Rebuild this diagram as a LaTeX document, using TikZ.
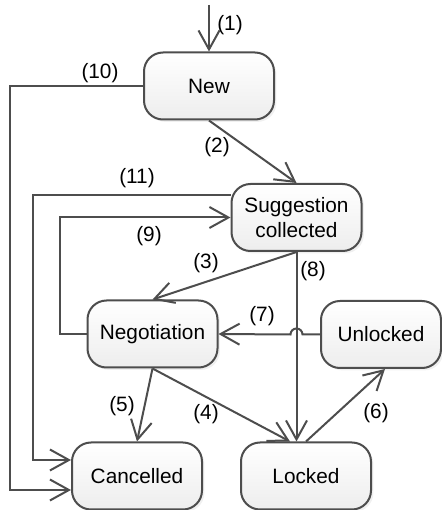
\documentclass[tikz,border=0pt]{standalone}
\usepackage{fontspec}
\setmainfont{Liberation Sans}
\usepackage{tikz}
\usetikzlibrary{arrows.meta, shadows, calc}

\definecolor{linegray}{RGB}{77,77,77}

\tikzset{
	state/.style={draw=linegray, line width=1pt, rounded corners=9.5pt, minimum width=65pt,
		minimum height=33.5pt, align=center, inner sep=2pt, top color=white, bottom color=black!7,
		drop shadow={opacity=0.12, shadow xshift=1.2pt, shadow yshift=-1.2pt},
		font=\fontsize{10.4}{12.5}\selectfont},
	lbl/.style={inner sep=0pt, font=\fontsize{10.4}{12.5}\selectfont},
	trans/.style={draw=linegray, line width=1pt, -{Straight Barb[length=9.5pt, width=10.5pt]}}
}

\begin{document}
\begin{tikzpicture}[x=1pt, y=1pt]
		\useasboundingbox (0,0) rectangle (221,255);
		\draw (104.5, 212) node[state] (new) {New}
		(148.25, 146.25) node[state] (sug) {Suggestion\\collected}
		(76.25, 88) node[state] (neg) {Negotiation}
		(190.5, 87.75) node[state, minimum width=60pt] (unl) {Unlocked}
		(68.5, 17) node[state] (canc) {Cancelled}
		(153, 17) node[state] (lock) {Locked};
		
		\coordinate (init) at (104.5, 252.5);
		\coordinate (c10) at (5, 10);
		\coordinate (c11) at (16.5, 25);
		\coordinate (c9) at (30, 146.25);
		
		\draw[trans] (init) -- (new);
		\draw[trans] (new.west) -| (c10) -- (c10 -| canc.west);
		\draw[trans] (new.south) -- (sug.north);
		\draw[trans] ([yshift=11.25pt]sug.west) -| (c11) -- (c11 -| canc.west);
		\draw[trans] (neg.west) -| (c9) -- (sug.west);
		\draw[trans] (sug.south) -- (neg.north);
		\draw[trans] (sug.south) -- (sug.south |- lock.north);
		\draw[trans] (unl.west) -- ($(sug.south |- unl.west)+(3,0)$) arc[start angle=0, end angle=180, radius=3pt] -- (neg.east);
		\draw[trans] (neg.south) -- (canc.north);
		\draw[trans] (neg.south) -- ([xshift=-8pt]lock.north);
		\draw[trans] (lock.north) -- ([xshift=2pt]unl.south);
		
		\node[lbl] (l1) at (115, 242.5) {(1)};
		\node[lbl] (l2) at (108.5, 181.5) {(2)};
		\node[lbl] (l3) at (103, 123.5) {(3)};
		\node[lbl] (l4) at (103, 48) {(4)};
		\node[lbl] (l5) at (61, 52) {(5)};
		\node[lbl] (l6) at (188, 48.5) {(6)};
		\node[lbl] (l7) at (131, 97) {(7)};
		\node[lbl] (l8) at (156.5, 119.5) {(8)};
		\node[lbl] (l9) at (74.5, 137) {(9)};
		\node[lbl] (l10) at (50, 218.5) {(10)};
		\node[lbl] (l11) at (68.5, 166) {(11)};
	\end{tikzpicture}
\end{document}
